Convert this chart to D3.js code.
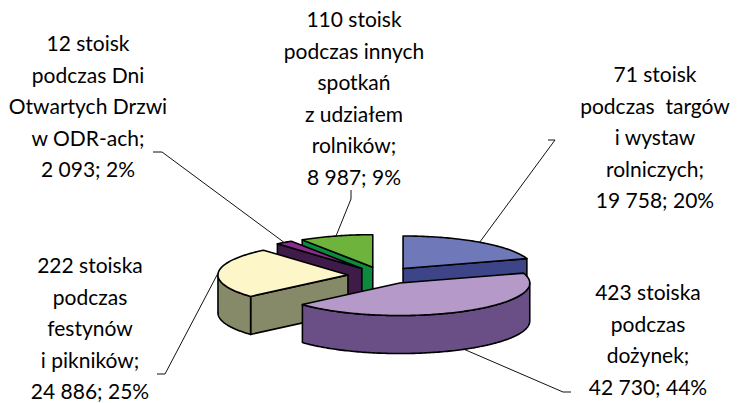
<!DOCTYPE html>
<html>
<head>
<meta charset="utf-8">
<script src="https://cdn.jsdelivr.net/npm/d3@7"></script>
<style>
  body { margin: 0; background: #ffffff; }
  svg text { font-family: Lato, "Noto Sans", sans-serif; font-size: 21px; fill: #000000; white-space: pre; }
</style>
</head>
<body>
<svg id="chart" width="742" height="403"></svg>
<script>
// Stands and visitors by event type (clockwise from 12 o'clock)
const categories = ["targi i wystawy rolnicze", "dożynki", "festyny i pikniki",
                    "Dni Otwartych Drzwi w ODR-ach", "inne spotkania z udziałem rolników"];
const visitors = [19758, 42730, 24886, 2093, 8987];
const shares = ["20%", "44%", "25%", "2%", "9%"];
const standCounts = [71, 423, 222, 12, 110];
const standWords = ["stoisk", "stoiska", "stoiska", "stoisk", "stoisk"];
const descriptionLines = [
  ["podczas  targów", "i wystaw", "rolniczych;"],
  ["podczas", "dożynek;"],
  ["podczas", "festynów", "i pikników;"],
  ["podczas Dni", "Otwartych Drzwi", "w ODR-ach;"],
  ["podczas innych", "spotkań", "z udziałem", "rolników;"]
];

// Styling
const topColors  = ["#6f79ba", "#b499c9", "#fcf6c9", "#8c2a8f", "#6db33c"];
const sideColors = ["#3d4487", "#6a4f86", "#878a69", "#3f1b49", "#0c8b3e"];

// Label placement: centre x, centre y of first line, leader knee and end
const labelLayout = [
  { x: 655, y: 75,  knee: [555, 140], end: [548, 140] },
  { x: 648, y: 293, knee: [563, 392], end: [571, 392] },
  { x: 90,  y: 266, knee: [165, 374], end: [157, 374] },
  { x: 88,  y: 44,  knee: [162, 152], end: [153, 152] },
  { x: 354, y: 20,  knee: [351, 199], end: [351, 190] }
];
const lineStep = 31.5;

// 3D pie geometry
const cx = 382.6, cy = 275.5, rx = 130, ry = 32.5, depth = 38, explode = 0.267;

const numFmt = d3.formatLocale({ decimal: ",", thousands: " ", grouping: [3], currency: ["", " zł"] }).format(",d");

const svg = d3.select("#chart");
const arcs = d3.pie().sort(null).value(d => d)(visitors);

const slices = arcs.map((a, i) => {
  const mid = (a.startAngle + a.endAngle) / 2;
  const ox = cx + explode * rx * Math.sin(mid);
  const oy = cy - explode * ry * Math.cos(mid);
  return { i, a0: a.startAngle, a1: a.endAngle, mid, ox, oy };
});

function pt(s, ang, dz = 0) {
  return [s.ox + rx * Math.sin(ang), s.oy - ry * Math.cos(ang) + dz];
}
function arcPts(s, a0, a1, dz = 0) {
  const n = Math.max(2, Math.ceil((a1 - a0) / (Math.PI / 180)));
  return d3.range(n + 1).map(k => pt(s, a0 + (a1 - a0) * k / n, dz));
}
const line = d3.line().curve(d3.curveLinearClosed);

// paint back to front
const order = slices.slice().sort((p, q) => (-Math.cos(p.mid)) - (-Math.cos(q.mid)));
const gPie = svg.append("g");

order.forEach(s => {
  const g = gPie.append("g");
  const side = sideColors[s.i], top = topColors[s.i];
  const c0 = [s.ox, s.oy], c1 = [s.ox, s.oy + depth];
  const faceStyle = sel => sel.attr("stroke", "#000").attr("stroke-width", 1.6).attr("stroke-linejoin", "round");

  // radial cut faces
  if (Math.sin(s.a0) < -1e-6) {
    const p = pt(s, s.a0);
    g.append("path").attr("d", line([c0, p, [p[0], p[1] + depth], c1])).attr("fill", side).call(faceStyle);
  }
  if (Math.sin(s.a1) > 1e-6) {
    const p = pt(s, s.a1);
    g.append("path").attr("d", line([c0, p, [p[0], p[1] + depth], c1])).attr("fill", side).call(faceStyle);
  }
  // outer curved wall, front half only
  const w0 = Math.max(s.a0, Math.PI / 2), w1 = Math.min(s.a1, 3 * Math.PI / 2);
  if (w1 > w0) {
    const topEdge = arcPts(s, w0, w1);
    const botEdge = arcPts(s, w0, w1, depth).reverse();
    g.append("path").attr("d", line(topEdge.concat(botEdge))).attr("fill", side).call(faceStyle);
  }
  // top face
  g.append("path").attr("d", line([c0].concat(arcPts(s, s.a0, s.a1)))).attr("fill", top).call(faceStyle);
});

// leader lines
const gLead = svg.append("g");
slices.forEach(s => {
  const L = labelLayout[s.i];
  const rim = pt(s, s.mid);
  const anchor = Math.cos(s.mid) < 0 ? [rim[0], rim[1] + depth] : rim;
  gLead.append("path")
    .attr("d", d3.line()([anchor, L.knee, L.end]))
    .attr("fill", "none").attr("stroke", "#111").attr("stroke-width", 1);
});

// labels
const gLab = svg.append("g");
slices.forEach(s => {
  const L = labelLayout[s.i];
  const lines = [standCounts[s.i] + " " + standWords[s.i]]
    .concat(descriptionLines[s.i])
    .concat([numFmt(visitors[s.i]) + "; " + shares[s.i]]);
  const t = gLab.append("text").attr("text-anchor", "middle");
  lines.forEach((ln, k) => {
    t.append("tspan").attr("x", L.x).attr("y", L.y + k * lineStep).attr("dy", "0.35em").text(ln);
  });
});
</script>
</body>
</html>
